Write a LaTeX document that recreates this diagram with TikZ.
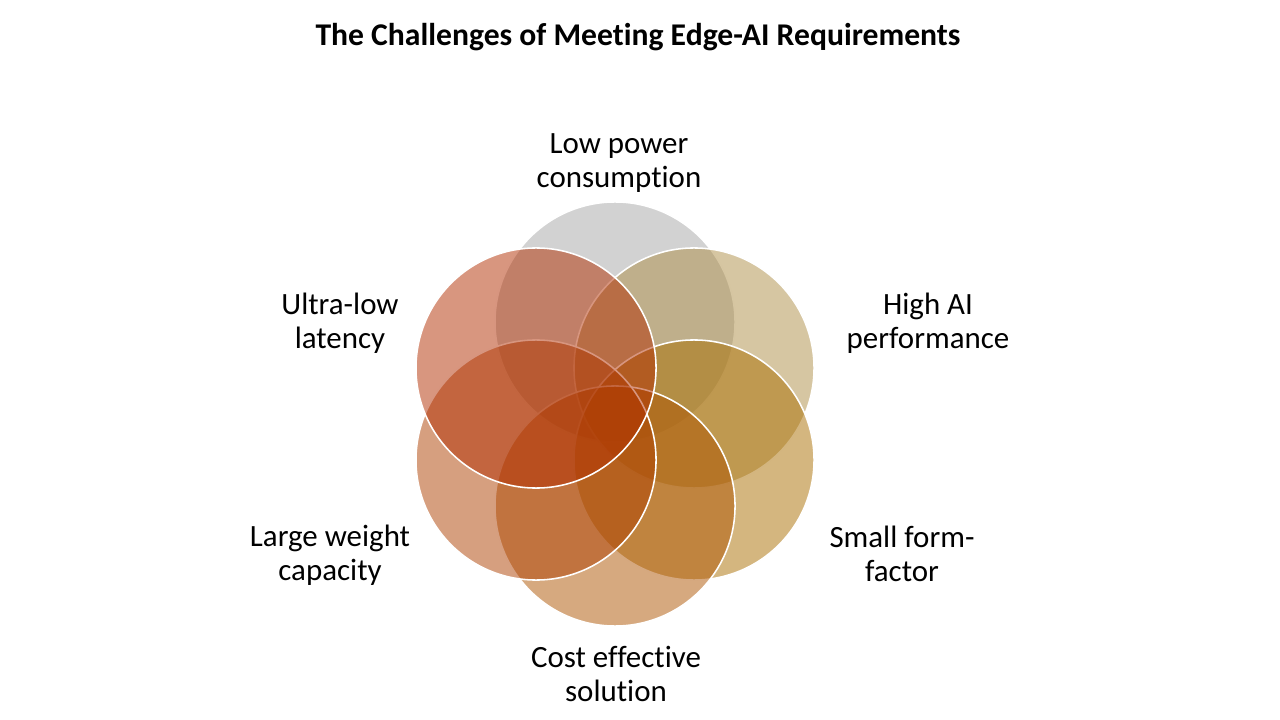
\documentclass[tikz,border=0pt]{standalone}
\usepackage{fontspec}
\setmainfont{Carlito}[Ligatures=NoCommon]
\usetikzlibrary{positioning}
\definecolor{cpower}{HTML}{A5A5A5}
\definecolor{cperf}{HTML}{AD8D45}
\definecolor{cform}{HTML}{A96D00}
\definecolor{ccost}{HTML}{AD5300}
\definecolor{cweight}{HTML}{AD3F00}
\definecolor{clat}{HTML}{B12D00}
\tikzstyle{petal}=[circle, draw=white, line width=1.1pt, fill opacity=0.5, minimum size=6cm, inner sep=0pt]
\tikzstyle{lbl}=[align=center, font=\fontsize{22}{24.2}\selectfont, text=black]

\begin{document}
\begin{tikzpicture}[x=0.025cm, y=-0.025cm]
                    \useasboundingbox (0,0) rectangle (1280,720);
                    \node [font=\fontsize{22.5}{26}\selectfont\bfseries] (title) at (638,37) {The Challenges of Meeting Edge-AI Requirements};
                    % circles, clockwise from the top
                    \node [petal, fill=cpower] (power) at (615,322) {};
                    \node [petal, fill=cperf] (perf) at (694,368) {};
                    \node [petal, fill=cform] (form) at (694,460) {};
                    \node [petal, fill=ccost] (cost) at (615,506) {};
                    \node [petal, fill=cweight] (weight) at (536,460) {};
                    \node [petal, fill=clat] (lat) at (536,368) {};
                    % labels
                    \node [lbl] (tpower) at (619,163) {Low power\\consumption};
                    \node [lbl] (tperf) at (928,323) {High AI\\performance};
                    \node [lbl] (tform) at (902,554) {Small form-\\factor};
                    \node [lbl] (tcost) at (616,674) {Cost effective\\solution};
                    \node [lbl] (tweight) at (330,555) {Large weight\\capacity};
                    \node [lbl] (tlat) at (340,323) {Ultra-low\\latency};
                \end{tikzpicture}
\end{document}
